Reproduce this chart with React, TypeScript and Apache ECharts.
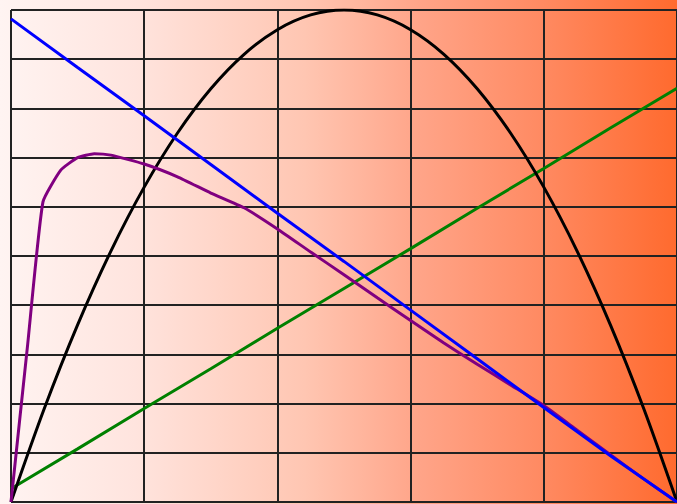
import React, { useEffect, useRef } from "react";
import * as echarts from "echarts";

const xTicks = [0, 2, 4, 6, 8, 10];

const blueX = [0, 1, 2, 3, 4, 5, 6, 7, 8, 9, 10];
const blueY = [9.82, 8.83, 7.85, 6.86, 5.87, 4.89, 3.9, 2.91, 1.92, 0.94, 0];

const greenX = [0, 1, 2, 3, 4, 5, 6, 7, 8, 9, 10];
const greenY = [0.27, 1.08, 1.9, 2.71, 3.53, 4.34, 5.15, 5.97, 6.78, 7.6, 8.41];

const blackX = [0, 0.5, 1, 1.5, 2, 2.5, 3, 3.5, 4, 4.5, 5, 5.5, 6, 6.5, 7, 7.5, 8, 8.5, 9, 9.5, 10];
const blackY = [0, 1.9, 3.6, 5.1, 6.4, 7.5, 8.4, 9.1, 9.6, 9.9, 10, 9.9, 9.6, 9.1, 8.4, 7.5, 6.4, 5.1, 3.6, 1.9, 0];

const purpleX = [0, 0.25, 0.48, 0.75, 1, 1.25, 1.5, 2, 2.5, 3, 3.5, 4, 4.5, 5, 5.5, 6, 6.5, 7, 7.5, 8, 8.5, 9, 9.5, 10];
const purpleY = [0, 3.2, 6.1, 6.75, 7.0, 7.08, 7.05, 6.87, 6.61, 6.28, 5.98, 5.55, 5.08, 4.62, 4.15, 3.69, 3.23, 2.8, 2.38, 1.96, 1.46, 0.96, 0.47, 0];

const zip = (xs: number[], ys: number[]) => xs.map((x, i) => [x, ys[i]]);

export default function App() {
  const ref = useRef<HTMLDivElement>(null);
  useEffect(() => {
    if (!ref.current) return;
    const chart = echarts.init(ref.current, undefined, { renderer: "svg" });
    const gridLine = { show: true, lineStyle: { color: "#222", width: 2 } };
    const mk = (name: string, data: number[][], color: string, smooth: number | boolean) => ({
      name,
      type: "line",
      data,
      smooth,
      showSymbol: false,
      symbol: "none",
      lineStyle: { color, width: 3 },
      itemStyle: { color },
      z: 3,
    });
    chart.setOption({
      animation: false,
      backgroundColor: "transparent",
      grid: { left: 11, top: 10, width: 669, height: 492, containLabel: false },
      xAxis: {
        type: "value",
        min: xTicks[0],
        max: xTicks[xTicks.length - 1],
        interval: 2,
        axisLine: { show: false },
        axisTick: { show: false },
        axisLabel: { show: false },
        splitLine: gridLine,
      },
      yAxis: {
        type: "value",
        min: 0,
        max: 10,
        interval: 1,
        axisLine: { show: false },
        axisTick: { show: false },
        axisLabel: { show: false },
        splitLine: gridLine,
      },
      series: [
        mk("green", zip(greenX, greenY), "#008000", false),
        mk("black", zip(blackX, blackY), "#000000", 0.3),
        mk("purple", zip(purpleX, purpleY), "#800080", 0.15),
        mk("blue", zip(blueX, blueY), "#0000ff", false),
      ],
    });
    return () => chart.dispose();
  }, []);
  return (
    <div
      ref={ref}
      style={{
        position: "absolute",
        left: 0,
        top: 0,
        width: 677,
        height: 504,
        overflow: "hidden",
        background:
          "linear-gradient(to right, #fff4f2 0%, #ffe4de 20%, #ffc6b2 45%, #ffa488 62%, #ff8a62 80%, #ff6a2e 100%)",
      }}
    />
  );
}
